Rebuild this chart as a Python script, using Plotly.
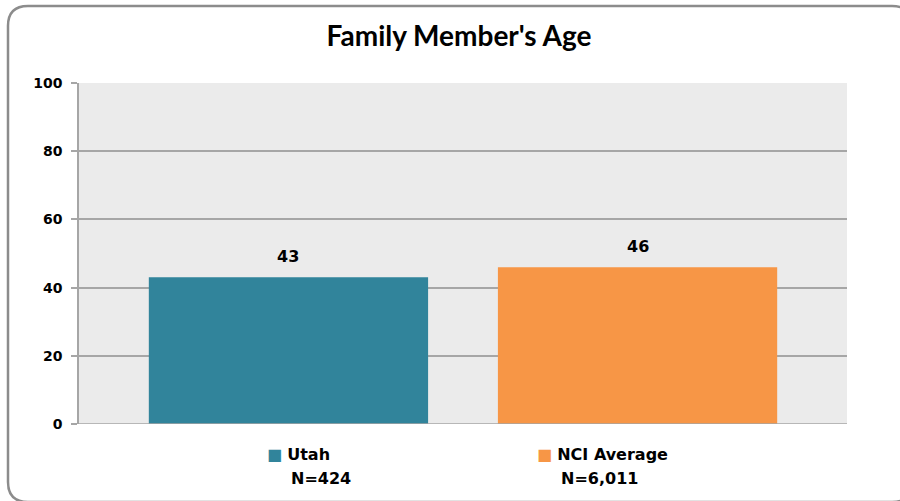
import plotly.graph_objects as go

categories = ["Utah", "NCI Average"]
values = [43, 46]
n_labels = ["N=424", "N=6,011"]
colors = ["#31849B", "#F79646"]
y_ticks = [0, 20, 40, 60, 80, 100]

x_pos = list(range(len(categories)))

W, H = 900, 501
pl, pr, pt, pb = 79, 53, 83, 77

fig = go.Figure()
fig.add_trace(go.Bar(
    x=x_pos, y=values, width=0.8,
    marker=dict(color=colors, line=dict(width=0)),
    showlegend=False, hoverinfo="skip",
))

annotations = []
for xp, v in zip(x_pos, values):
    annotations.append(dict(
        x=xp, y=v, xref="x", yref="y", xanchor="center", yanchor="bottom",
        yshift=9, showarrow=False, text=str(v),
        font=dict(family="DejaVu Sans", size=16, color="#000000", weight="bold"),
    ))

leg_x = [-0.067, 0.706]
for i, (cat, n, col) in enumerate(zip(categories, n_labels, colors)):
    annotations.append(dict(
        x=leg_x[i], y=0, xref="x", yref="paper", xanchor="left", yanchor="top",
        yshift=-19, showarrow=False, align="left",
        text=f"<span style='color:{col}'>■</span> <b>{cat}</b>",
        font=dict(family="DejaVu Sans", size=16, color="#000000"),
    ))
    annotations.append(dict(
        x=leg_x[i], y=0, xref="x", yref="paper", xanchor="left", yanchor="top",
        xshift=24, yshift=-43, showarrow=False, align="left",
        text=f"<b>{n}</b>",
        font=dict(family="DejaVu Sans", size=16, color="#000000"),
    ))

def px(x): return (x - pl) / (W - pl - pr)
def py(y): return (H - pb - y) / (H - pt - pb)

r = 20
x0, y0, x1, y1 = 8, 6, 912, 502
path = (f"M {px(x0)},{py(y0 + r)} "
        f"Q {px(x0)},{py(y0)} {px(x0 + r)},{py(y0)} "
        f"L {px(x1 - r)},{py(y0)} "
        f"Q {px(x1)},{py(y0)} {px(x1)},{py(y0 + r)} "
        f"L {px(x1)},{py(y1 - r)} "
        f"Q {px(x1)},{py(y1)} {px(x1 - r)},{py(y1)} "
        f"L {px(x0 + r)},{py(y1)} "
        f"Q {px(x0)},{py(y1)} {px(x0)},{py(y1 - r)} Z")

fig.update_layout(
    width=W, height=H,
    margin=dict(l=pl, r=pr, t=pt, b=pb),
    paper_bgcolor="#FFFFFF", plot_bgcolor="#EBEBEB",
    title=dict(text="<b>Family Member's Age</b>", x=459 / W, xref="container",
               xanchor="center", y=1 - 36 / H, yref="container",
               yanchor="middle",
               font=dict(family="Lato", size=28, color="#000000")),
    xaxis=dict(range=[-0.6, 1.6], showticklabels=False, showgrid=False,
               zeroline=False, showline=False, fixedrange=True),
    yaxis=dict(range=[0, 100], tickvals=y_ticks, showgrid=True,
               gridcolor="#A6A6A6", gridwidth=1.5, zeroline=False,
               showline=True, linecolor="#A6A6A6", linewidth=1.5,
               ticks="outside", ticklen=6, tickcolor="#A6A6A6", tickwidth=1.5,
               tickfont=dict(family="DejaVu Sans", size=14, color="#000000",
                             weight="bold"),
               ticklabelstandoff=6),
    annotations=annotations,
    shapes=[
        dict(type="path", xref="paper", yref="paper", layer="below",
             path=path, line=dict(color="#8C8C8C", width=2.5)),
        dict(type="line", xref="paper", yref="y", x0=0, x1=1, y0=0, y1=0,
             line=dict(color="#A6A6A6", width=1.5), layer="above"),
    ],
)

fig.write_html("out.html", config={"displayModeBar": False},
               post_script="document.body.style.margin='0';")
